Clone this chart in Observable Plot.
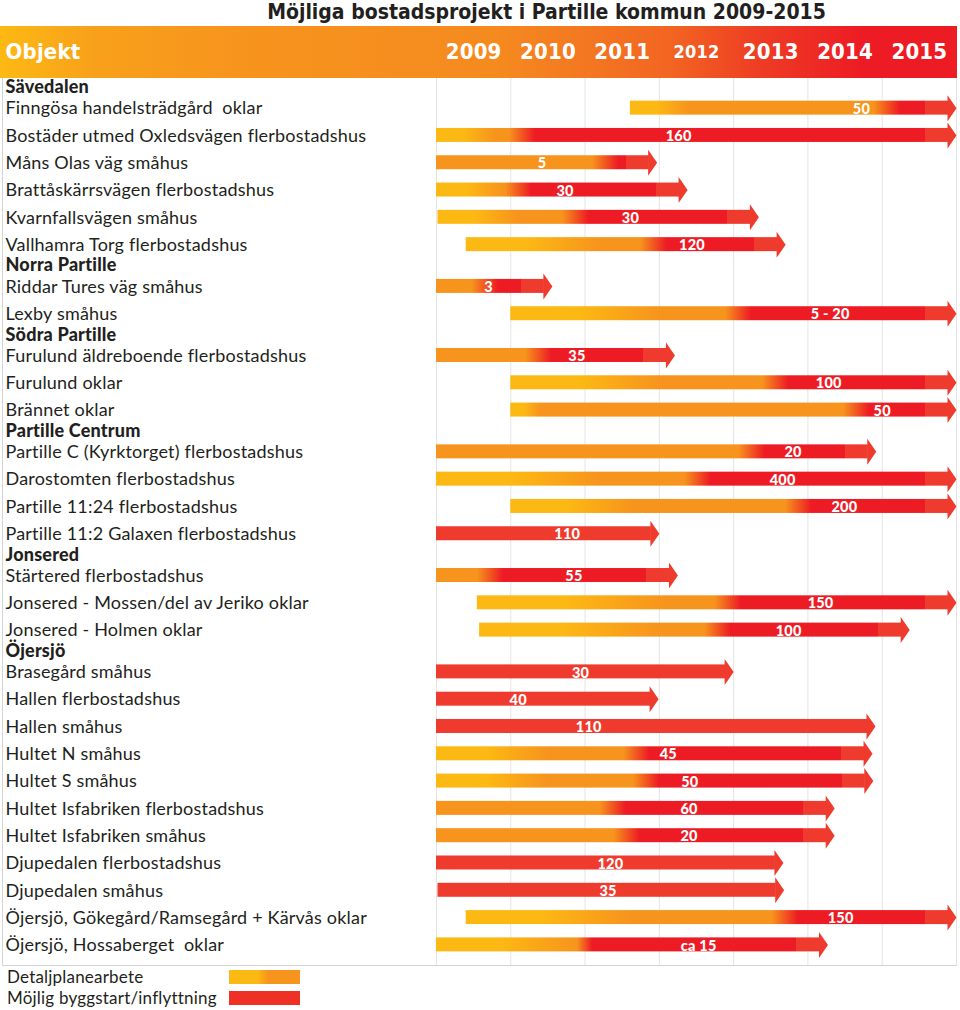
<!DOCTYPE html>
<html><head><meta charset="utf-8">
<script src="https://cdn.jsdelivr.net/npm/d3@7"></script>
<script src="https://cdn.jsdelivr.net/npm/@observablehq/plot@0.6"></script>
<style>
body{margin:0;background:#fff;width:960px;height:1010px;position:relative;overflow:hidden;font-family:Lato,sans-serif;color:#231f20}
#title{position:absolute;left:0;top:0;width:960px;height:25px;line-height:25px;text-align:center;padding-left:133px;box-sizing:border-box;font-weight:bold;font-size:21px;font-family:"Liberation Sans Narrow","DejaVu Sans Condensed",sans-serif;}
#band{position:absolute;left:0;top:26px;width:957px;height:52px;background:linear-gradient(to right,#fdb913 0%,#f8a01b 10%,#f7941d 25%,#f58a1f 52%,#f26522 70%,#ee3a24 80%,#ed1c24 90%,#ed1c24 100%);}
#frame{position:absolute;left:2px;top:78px;width:954px;height:887px;border-left:1px solid #d4d4d4;border-bottom:1px solid #d4d4d4;}
#chart{position:absolute;left:0;top:26px;}
#legend{position:absolute;left:7px;top:966px;font-size:17px;letter-spacing:0.2px}
.row{display:flex;align-items:center;height:21px}
.row span{width:222px}
.sw{width:71px;height:14px}
</style></head>
<body>
<div id="title">Möjliga bostadsprojekt i Partille kommun 2009-2015</div>
<div id="band"></div>
<div id="frame"></div>
<div id="chart"></div>
<div id="legend">
  <div class="row"><span>Detaljplanearbete</span><div class="sw" style="background:linear-gradient(to right,#fdb913 0%,#fdb913 40%,#f7941d 55%,#f7941d 100%)"></div></div>
  <div class="row"><span>Möjlig byggstart/inflyttning</span><div class="sw" style="background:#ee3124"></div></div>
</div>
<script>
const groups = ["Sävedalen", "Norra Partille", "Södra Partille", "Partille Centrum", "Jonsered", "Öjersjö"];
const projects = [
  "Finngösa handelsträdgård  oklar",
  "Bostäder utmed Oxledsvägen flerbostadshus",
  "Måns Olas väg småhus",
  "Brattåskärrsvägen flerbostadshus",
  "Kvarnfallsvägen småhus",
  "Vallhamra Torg flerbostadshus",
  "Riddar Tures väg småhus",
  "Lexby småhus",
  "Furulund äldreboende flerbostadshus",
  "Furulund oklar",
  "Brännet oklar",
  "Partille C (Kyrktorget) flerbostadshus",
  "Darostomten flerbostadshus",
  "Partille 11:24 flerbostadshus",
  "Partille 11:2 Galaxen flerbostadshus",
  "Stärtered flerbostadshus",
  "Jonsered - Mossen/del av Jeriko oklar",
  "Jonsered - Holmen oklar",
  "Brasegård småhus",
  "Hallen flerbostadshus",
  "Hallen småhus",
  "Hultet N småhus",
  "Hultet S småhus",
  "Hultet Isfabriken flerbostadshus",
  "Hultet Isfabriken småhus",
  "Djupedalen flerbostadshus",
  "Djupedalen småhus",
  "Öjersjö, Gökegård/Ramsegård + Kärvås oklar",
  "Öjersjö, Hossaberget  oklar"
];
const projectGroup = [0,0,0,0,0,0,1,1,2,2,2,3,3,3,3,4,4,4,5,5,5,5,5,5,5,5,5,5,5];
// detaljplan start (year)
const startYear  = [2011.61,2009.0,2009.0,2009.0,2009.02,2009.40,2009.0,2010.0,2009.0,2010.0,2010.0,2009.0,2009.0,2010.0,2009.0,2009.0,2009.55,2009.58,2009.0,2009.0,2009.0,2009.0,2009.0,2009.0,2009.0,2009.0,2009.02,2009.40,2009.0];
// year where the planning colour reaches full orange
const orangeYear = [2012.4,2009.8,2009.0,2009.9,2010.1,2011.2,2009.0,2012.0,2009.0,2012.0,2010.4,2009.0,2011.2,2011.65,2009.0,2009.0,2012.1,2012.0,2009.0,2009.0,2009.0,2010.5,2010.5,2009.0,2009.0,2009.0,2009.02,2011.6,2010.9];
// possible construction start / moving in (red)
const redYear    = [2015.24,2010.33,2011.45,2010.28,2011.05,2012.1,2009.83,2013.24,2010.55,2013.74,2014.83,2013.42,2012.69,2014.05,2009.0,2009.9,2013.1,2012.96,2009.0,2009.0,2009.0,2011.87,2012.0,2011.55,2011.74,2009.0,2009.02,2013.87,2011.1];
// end of arrow
const endYear    = [2016.0,2016.0,2011.97,2012.38,2013.34,2013.70,2010.56,2016.0,2012.21,2016.0,2016.0,2014.92,2016.0,2016.0,2012.0,2012.25,2016.0,2015.37,2013.0,2011.99,2014.91,2014.87,2014.88,2014.36,2014.36,2013.67,2013.68,2016.0,2014.27];
const unitLabel  = ["50","160","5","30","30","120","3","5 - 20","35","100","50","20","400","200","110","55","150","100","30","40","110","45","50","60","20","120","35","150","ca 15"];
const labelYear  = [2014.72,2012.26,2010.42,2010.73,2011.61,2012.44,2009.70,2014.3,2010.89,2014.28,2015.0,2013.8,2013.66,2014.49,2010.76,2010.85,2014.17,2013.74,2010.94,2010.1,2011.05,2012.12,2012.41,2012.4,2012.4,2011.34,2011.31,2014.44,2012.53];
const years = [2009, 2010, 2011, 2012, 2013, 2014, 2015];

const YELLOW = "#fdb913", ORANGE = "#f7941d", RED = "#ed1c24", LIGHT = "#ef3b2e";
const NARROW = "'Liberation Sans Narrow','DejaVu Sans Condensed',sans-serif";

// row index: group header, then its items
const headers = [], items = [];
let k = 0;
groups.forEach((name, gi) => {
  headers.push({name, k});
  k += 0.65;
  projects.forEach((p, i) => {
    if (projectGroup[i] !== gi) return;
    items.push({i, name: p, k, start: startYear[i], orange: orangeYear[i], red: redYear[i],
      end: endYear[i], label: unitLabel[i], labelX: labelYear[i]});
    k += 1;
  });
  k += 0.88 - 1;
});
const kMax = d3.max(items, d => d.k);

const H = 940, TOP = 63.9, ROW = 27.3, BAR = 14;
const MB = H - TOP - ROW * kMax;

const arrowHead = {draw(ctx) { ctx.moveTo(0, 0); ctx.lineTo(-9, -13); ctx.lineTo(-9, 13); ctx.closePath(); }};

const chart = Plot.plot({
  width: 960, height: H,
  marginLeft: 436, marginRight: 4, marginTop: TOP, marginBottom: MB,
  x: {domain: [2009, 2016], axis: null},
  y: {domain: [0, kMax], axis: null, reverse: true},
  color: {type: "identity"},
  style: {fontFamily: "Lato, sans-serif", color: "#231f20", background: "transparent", overflow: "visible", letterSpacing: "0.2px"},
  marks: [
    Plot.ruleX(d3.range(2009, 2017), {stroke: "#e4e4e4", insetTop: -(TOP - 52), insetBottom: -(939 - (H - MB))}),
    Plot.rect(items, {x1: "start", x2: "end", y1: d => d.k - 0.5, y2: d => d.k + 0.5,
      insetTop: (ROW - BAR) / 2, insetBottom: (ROW - BAR) / 2, insetRight: 8,
      fill: d => `url(#bar${d.i})`}),
    Plot.dot(items, {x: "end", y: "k", symbol: arrowHead, r: 6, fill: LIGHT, stroke: "none"}),
    Plot.text(items, {x: "labelX", y: "k", text: "label", fill: "white", fontWeight: 900, fontSize: 14.5, dy: 1}),
    Plot.text(items, {y: "k", text: "name", frameAnchor: "left", textAnchor: "start", dx: -431, dy: 0.5, fontSize: 18, fill: "#231f20"}),
    Plot.text(headers, {y: "k", text: "name", frameAnchor: "left", textAnchor: "start", dx: -431, dy: -3, fontSize: 18, fontWeight: 900, fill: "#231f20"}),
    Plot.text(["Objekt"], {frameAnchor: "top-left", textAnchor: "start", lineAnchor: "middle", dx: -431, dy: -38,
      fill: "white", fontSize: 22, fontWeight: "bold", fontFamily: NARROW}),
    Plot.text(years, {x: d => d + 0.5, frameAnchor: "top", lineAnchor: "middle", dy: -38, text: d => String(d),
      fill: "white", fontWeight: "bold", fontSize: d => d === 2012 ? 18 : 22, fontFamily: NARROW})
  ]
});

// gradients of the bars, positioned through the x scale
const X = chart.scale("x");
const defs = d3.select(chart).append("defs");
items.forEach(d => {
  const s = X.apply(d.start), b = X.apply(d.end) - 8;
  const g = defs.append("linearGradient").attr("id", `bar${d.i}`).attr("gradientUnits", "userSpaceOnUse")
    .attr("x1", s).attr("x2", b).attr("y1", 0).attr("y2", 0);
  const off = px => Math.max(0, Math.min(1, (px - s) / (b - s)));
  const stops = [];
  if (d.red <= d.start) {
    stops.push([0, LIGHT], [1, LIGHT]);
  } else {
    const o = X.apply(d.orange), r = X.apply(d.red), l = b - 23;
    if (d.orange > d.start) stops.push([0, YELLOW], [off(s + 0.45 * (o - s)), YELLOW]);
    stops.push([off(o), ORANGE]);
    stops.push([off(Math.max(o, r - 26)), ORANGE]);
    stops.push([off(r), RED]);
    stops.push([off(l), RED], [off(l), LIGHT], [1, LIGHT]);
  }
  let last = 0;
  stops.forEach(([t, c]) => { last = Math.max(last, t); g.append("stop").attr("offset", last).attr("stop-color", c); });
});

document.getElementById("chart").appendChild(chart);
</script>
</body></html>
